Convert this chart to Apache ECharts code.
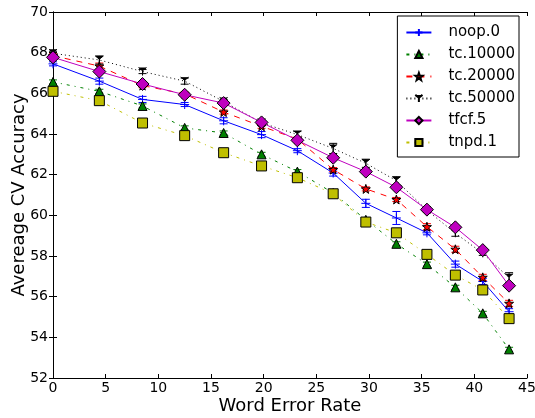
<!DOCTYPE html>
<html>
<head>
<meta charset="utf-8">
<script src="https://cdn.jsdelivr.net/npm/echarts@6/dist/echarts.min.js"></script>
<style>
  html, body { margin: 0; padding: 0; background: #fff; }
  #chart { width: 535px; height: 418px; }
</style>
</head>
<body>
<div id="chart"></div>
<script>
// word error rate on x, one point per noise level
var wer = [0, 4.4, 8.5, 12.5, 16.2, 19.8, 23.2, 26.6, 29.7, 32.6, 35.5, 38.2, 40.8, 43.3];

var names = ['noop.0', 'tc.10000', 'tc.20000', 'tc.50000', 'tfcf.5', 'tnpd.1'];

var noop0   = [67.45, 66.6, 65.7, 65.45, 64.65, 63.97, 63.18, 62.08, 60.59, 59.87, 59.14, 57.6, 56.75, 55.26];
var tc10000 = [66.56, 66.1, 65.38, 64.3, 64.05, 63.0, 62.15, 61.1, 59.78, 58.6, 57.6, 56.46, 55.18, 53.41];
var tc20000 = [67.85, 67.34, 66.38, 65.97, 65.08, 64.38, 63.75, 62.25, 61.3, 60.78, 59.44, 58.33, 56.95, 55.67];
var tc50000 = [67.97, 67.64, 67.07, 66.6, 65.6, 64.55, 63.97, 63.29, 62.56, 61.7, 60.25, 59.12, 58.13, 56.93];
var tfcf5   = [67.77, 67.07, 66.46, 65.93, 65.52, 64.57, 63.69, 62.83, 62.15, 61.38, 60.28, 59.41, 58.29, 56.54];
var tnpd1   = [66.1, 65.64, 64.54, 63.92, 63.08, 62.43, 61.85, 61.06, 59.67, 59.14, 58.08, 57.06, 56.33, 54.92];

// half widths of the error bars
var noop0Err   = [0.1, 0.15, 0.15, 0.1, 0.15, 0.15, 0.1, 0.15, 0.2, 0.32, 0.1, 0.15, 0.15, 0.15];
var tc10000Err = [0.1, 0.1, 0.1, 0.1, 0.1, 0.1, 0.1, 0.1, 0.1, 0.1, 0.1, 0.1, 0.1, 0.1];
var tc20000Err = [0.1, 0.15, 0.1, 0.1, 0.1, 0.1, 0.1, 0.1, 0.1, 0.1, 0.15, 0.15, 0.15, 0.15];
var tc50000Err = [0.1, 0.2, 0.1, 0.15, 0.1, 0.1, 0.15, 0.25, 0.2, 0.2, 0.1, 0.15, 0.1, 0.25];
var tfcf5Err   = [0.05, 0.05, 0.05, 0.05, 0.05, 0.05, 0.05, 0.05, 0.05, 0.05, 0.05, 0.05, 0.05, 0.05];
var tnpd1Err   = [0.05, 0.05, 0.05, 0.05, 0.05, 0.05, 0.05, 0.05, 0.05, 0.05, 0.05, 0.05, 0.05, 0.05];

var xTicks = [0, 5, 10, 15, 20, 25, 30, 35, 40, 45];
var yTicks = [52, 54, 56, 58, 60, 62, 64, 66, 68, 70];

var FONT = 'DejaVu Sans, sans-serif';

var STAR = 'path://M50,0 L61.76,33.82 L97.55,34.55 L69.02,56.18 L79.39,90.45 L50,70 L20.61,90.45 L30.98,56.18 L2.45,34.55 L38.24,33.82 Z';
var PLUS = 'path://M5,0 L5,10 M0,5 L10,5';
var TRI_DOWN = 'path://M0,0 L5,4 L10,0 M5,4 L5,10';

var styles = [
  { vals: noop0, err: noop0Err, color: '#0000ff', dash: 'solid', symbol: PLUS, size: 9,
    fill: 'none', border: '#0000ff' },
  { vals: tc10000, err: tc10000Err, color: '#008000', dash: [3, 5, 1, 5], symbol: 'triangle', size: 9,
    fill: '#008000', border: '#000' },
  { vals: tc20000, err: tc20000Err, color: '#ff0000', dash: [6, 6], symbol: STAR, size: 9,
    fill: '#ff0000', border: '#000' },
  { vals: tc50000, err: tc50000Err, color: '#000000', dash: [1, 3], symbol: TRI_DOWN, size: 8,
    fill: 'none', border: '#000' },
  { vals: tfcf5, err: tfcf5Err, color: '#bf00bf', dash: 'solid', symbol: 'diamond', size: 13,
    fill: '#bf00bf', border: '#000' },
  { vals: tnpd1, err: tnpd1Err, color: '#bfbf00', dash: [3, 5, 1, 5], symbol: 'rect', size: 10,
    fill: '#bfbf00', border: '#000' }
];

function pairs(vals) {
  var out = [];
  for (var i = 0; i < wer.length; i++) out.push([wer[i], vals[i]]);
  return out;
}

function errData(vals, err) {
  var out = [];
  for (var i = 0; i < wer.length; i++) out.push([wer[i], vals[i] - err[i], vals[i] + err[i]]);
  return out;
}

function errRender(color) {
  return function (params, api) {
    var lo = api.coord([api.value(0), api.value(1)]);
    var hi = api.coord([api.value(0), api.value(2)]);
    var w = 4;
    var st = { stroke: color, lineWidth: 1 };
    return {
      type: 'group',
      children: [
        { type: 'line', shape: { x1: lo[0], y1: lo[1], x2: hi[0], y2: hi[1] }, style: st },
        { type: 'line', shape: { x1: lo[0] - w, y1: lo[1], x2: lo[0] + w, y2: lo[1] }, style: st },
        { type: 'line', shape: { x1: hi[0] - w, y1: hi[1], x2: hi[0] + w, y2: hi[1] }, style: st }
      ]
    };
  };
}

var series = [];
for (var i = 0; i < names.length; i++) {
  var s = styles[i];
  series.push({
    name: names[i] + ' err',
    type: 'custom',
    renderItem: errRender(s.color),
    data: errData(s.vals, s.err),
    z: 2 + i * 2,
    silent: true,
    encode: { x: 0, y: [1, 2] }
  });
  series.push({
    name: names[i],
    type: 'line',
    data: pairs(s.vals),
    symbol: s.symbol,
    symbolSize: s.size,
    showAllSymbol: true,
    z: 3 + i * 2,
    lineStyle: { color: s.color, width: 1, type: s.dash },
    itemStyle: { color: s.fill === 'none' ? s.color : s.fill, borderColor: s.border, borderWidth: 1 },
    animation: false
  });
}

var legendData = [];
for (var j = 0; j < names.length; j++) legendData.push({ name: names[j] });

var tickStyle = { show: true, inside: true, length: 4, lineStyle: { color: '#000', width: 1 } };

var option = {
  animation: false,
  textStyle: { fontFamily: FONT },
  grid: { left: 53, right: 8, top: 12, bottom: 40, outerBoundsMode: 'none', containLabel: false },
  legend: {
    data: legendData,
    orient: 'vertical',
    right: 16,
    top: 16,
    itemWidth: 25,
    itemHeight: 9,
    itemGap: 7,
    padding: [9, 4, 7, 8],
    borderColor: '#000',
    borderWidth: 1,
    backgroundColor: '#fff',
    textStyle: { fontFamily: FONT, fontSize: 15, color: '#000', padding: [0, 0, 0, 12] }
  },
  xAxis: [
    {
      type: 'value', min: xTicks[0], max: xTicks[xTicks.length - 1], interval: 5,
      name: 'Word Error Rate', nameLocation: 'middle', nameGap: 19, nameMoveOverlap: false,
      nameTextStyle: { fontFamily: FONT, fontSize: 18, color: '#000' },
      axisLine: { show: true, lineStyle: { color: '#000', width: 1 } },
      axisTick: tickStyle,
      axisLabel: { fontFamily: FONT, fontSize: 14, color: '#000', margin: 3 },
      splitLine: { show: false }
    },
    {
      type: 'value', position: 'top', min: xTicks[0], max: xTicks[xTicks.length - 1], interval: 5,
      axisLine: { show: true, lineStyle: { color: '#000', width: 1 } },
      axisTick: tickStyle,
      axisLabel: { show: false },
      splitLine: { show: false }
    }
  ],
  yAxis: [
    {
      type: 'value', min: yTicks[0], max: yTicks[yTicks.length - 1], interval: 2,
      name: 'Avereage CV Accuracy', nameLocation: 'middle', nameGap: 25, nameMoveOverlap: false,
      nameTextStyle: { fontFamily: FONT, fontSize: 18, color: '#000' },
      axisLine: { show: true, lineStyle: { color: '#000', width: 1 } },
      axisTick: tickStyle,
      axisLabel: { fontFamily: FONT, fontSize: 14, color: '#000', margin: 5 },
      splitLine: { show: false }
    },
    {
      type: 'value', position: 'right', min: yTicks[0], max: yTicks[yTicks.length - 1], interval: 2,
      axisLine: { show: true, lineStyle: { color: '#000', width: 1 } },
      axisTick: tickStyle,
      axisLabel: { show: false },
      splitLine: { show: false }
    }
  ],
  series: series
};

var chart = echarts.init(document.getElementById('chart'), null, { renderer: 'canvas' });
chart.setOption(option);
</script>
</body>
</html>
